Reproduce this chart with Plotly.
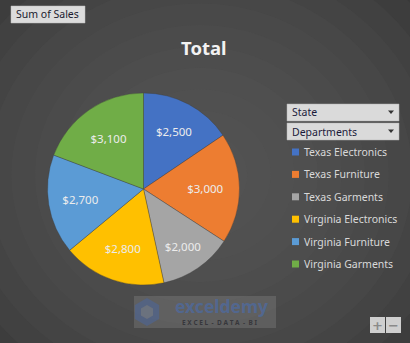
import math
import plotly.graph_objects as go

categories = ["Texas Electronics", "Texas Furniture", "Texas Garments",
              "Virginia Electronics", "Virginia Furniture", "Virginia Garments"]
sales = [2500, 3000, 2000, 2800, 2700, 3100]
colors = ["#4472C4", "#ED7D31", "#A5A5A5", "#FFC000", "#5B9BD5", "#70AD47"]
title_text = "Total"
field_button = "Sum of Sales"
filters = ["State", "Departments"]

W, H = 410, 343


def px(x):
    return x / W


def py(y):
    return 1 - y / H


fig = go.Figure()

cx, cy, r = 143.5, 189, 96
fig.add_trace(go.Pie(
    labels=categories, values=sales, sort=False, direction="clockwise", rotation=0,
    marker=dict(colors=colors, line=dict(width=0.6, color="rgba(60,60,60,0.6)")),
    texttemplate="$%{value:,.0f}", textinfo="value", textposition="inside",
    insidetextorientation="horizontal",
    insidetextfont=dict(color="#ececec", size=11.5, family="Noto Sans"),
    domain=dict(x=[px(cx - r), px(cx + r)], y=[py(cy + r), py(cy - r)]),
    showlegend=False, hoverinfo="label+value",
))

shapes = []
# radial background gradient
n = 14
for i in range(n):
    f = 1 - i / n
    rx, ry = 330 * f, 300 * f
    shapes.append(dict(type="circle", xref="paper", yref="paper", layer="below",
                       x0=px(200 - rx), x1=px(200 + rx), y0=py(175 + ry), y1=py(175 - ry),
                       fillcolor="#5a5a5a", opacity=0.13, line=dict(width=0)))

annotations = []
# Sum of Sales button
shapes.append(dict(type="rect", xref="paper", yref="paper", x0=px(11), x1=px(85), y0=py(23), y1=py(6),
                   fillcolor="#dcdcdc", line=dict(width=0.5, color="#bfbfbf")))
annotations.append(dict(text=field_button, x=px(14), y=py(14.5), xref="paper", yref="paper",
                        xanchor="left", yanchor="middle", showarrow=False,
                        font=dict(size=10.5, color="#1a1a2e", family="Noto Sans")))

# Title
annotations.append(dict(text="<b>" + title_text + "</b>", x=px(204), y=py(47.5), xref="paper", yref="paper",
                        xanchor="center", yanchor="middle", showarrow=False,
                        font=dict(size=18.5, color="#f2f2f2", family="Noto Sans")))

# filter dropdowns
for i, f in enumerate(filters):
    top = 104 + i * 19
    shapes.append(dict(type="rect", xref="paper", yref="paper", x0=px(287), x1=px(399),
                       y0=py(top + 17), y1=py(top), fillcolor="#dadada",
                       line=dict(width=0.5, color="#b0b0b0")))
    annotations.append(dict(text=f, x=px(290), y=py(top + 8.5), xref="paper", yref="paper",
                            xanchor="left", yanchor="middle", showarrow=False,
                            font=dict(size=10.5, color="#1a1a3a", family="Noto Sans")))
    tri = f"M {px(388)},{py(top + 6.5)} L {px(394)},{py(top + 6.5)} L {px(391)},{py(top + 10)} Z"
    shapes.append(dict(type="path", xref="paper", yref="paper", path=tri,
                       fillcolor="#333333", line=dict(width=0)))

# legend (manual, Excel-like spacing)
for i, (c, col) in enumerate(zip(categories, colors)):
    yc = 152 + i * 22.4
    shapes.append(dict(type="rect", xref="paper", yref="paper", x0=px(292), x1=px(299),
                       y0=py(yc + 3.5), y1=py(yc - 3.5), fillcolor=col, line=dict(width=0)))
    annotations.append(dict(text=c, x=px(301.5), y=py(yc), xref="paper", yref="paper",
                            xanchor="left", yanchor="middle", showarrow=False,
                            font=dict(size=10.5, color="#d9d9d9", family="Noto Sans")))

# watermark
shapes.append(dict(type="rect", xref="paper", yref="paper", x0=px(134), x1=px(276), y0=py(328), y1=py(296),
                   fillcolor="rgba(150,150,150,0.28)", line=dict(width=0)))
hx, hy, hr = 147, 312, 14
pts = [(hx + hr * math.cos(math.radians(90 + 60 * k)), hy - hr * math.sin(math.radians(90 + 60 * k))) for k in range(6)]
path = "M " + " L ".join(f"{px(x)},{py(y)}" for x, y in pts) + " Z"
shapes.append(dict(type="path", xref="paper", yref="paper", path=path,
                   fillcolor="rgba(80,100,140,0.75)", line=dict(width=0)))
pts2 = [(hx + 7 * math.cos(math.radians(90 + 60 * k)), hy - 7 * math.sin(math.radians(90 + 60 * k))) for k in range(6)]
path2 = "M " + " L ".join(f"{px(x)},{py(y)}" for x, y in pts2) + " Z"
shapes.append(dict(type="path", xref="paper", yref="paper", path=path2,
                   fillcolor="rgba(110,115,125,0.9)", line=dict(width=0)))
annotations.append(dict(text="<b>exceldemy</b>", x=px(221), y=py(306), xref="paper", yref="paper",
                        xanchor="center", yanchor="middle", showarrow=False,
                        font=dict(size=17.5, color="rgba(80,105,150,0.9)", family="Noto Sans")))
annotations.append(dict(text="<b>E X C E L  -  D A T A  -  B I</b>", x=px(219), y=py(322.5), xref="paper", yref="paper",
                        xanchor="center", yanchor="middle", showarrow=False,
                        font=dict(size=6.5, color="rgba(50,50,55,0.9)", family="Noto Sans")))

# +/- buttons
for x0, sym in [(370, "+"), (386, "−")]:
    shapes.append(dict(type="rect", xref="paper", yref="paper", x0=px(x0), x1=px(x0 + 15),
                       y0=py(333), y1=py(317), fillcolor="#cfcfcf", line=dict(width=0)))
    annotations.append(dict(text="<b>" + sym + "</b>", x=px(x0 + 7.5), y=py(325), xref="paper", yref="paper",
                            xanchor="center", yanchor="middle", showarrow=False,
                            font=dict(size=13, color="#8a8a8a", family="DejaVu Sans")))

fig.update_layout(
    width=W, height=H, margin=dict(l=0, r=0, t=0, b=0),
    paper_bgcolor="#2e2e2e", plot_bgcolor="#2e2e2e",
    shapes=shapes, annotations=annotations, showlegend=False,
)

fig.write_html("out.html")
